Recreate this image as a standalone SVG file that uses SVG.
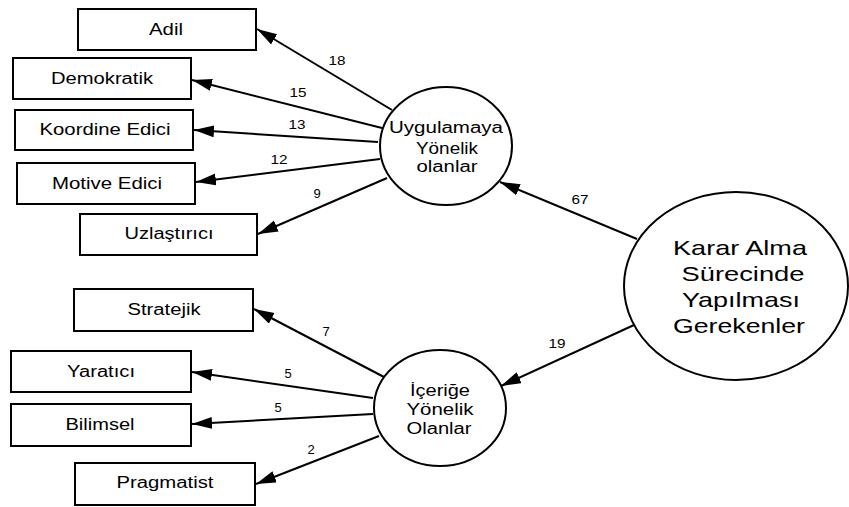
<svg xmlns="http://www.w3.org/2000/svg" width="849" height="507" viewBox="0 0 849 507">
<style>
.box{fill:#fff;stroke:#000;stroke-width:2}
.circ{fill:#fff;stroke:#000;stroke-width:2}
.lbl{font-family:"Liberation Sans",Arial,sans-serif;font-size:16px;fill:#000;text-anchor:middle}
.big{font-family:"Liberation Sans",Arial,sans-serif;font-size:21px;fill:#000;text-anchor:middle}
.num{font-family:"Liberation Sans",Arial,sans-serif;font-size:13px;fill:#000;text-anchor:middle}
.edge{stroke:#000;stroke-width:2;fill:none;marker-end:url(#arr)}
</style>
<defs>
<marker id="arr" markerUnits="userSpaceOnUse" markerWidth="22" markerHeight="14" refX="20" refY="6" orient="auto">
<path d="M0,0 L20,6 L0,12 z" fill="#000"/>
</marker>
</defs>
<g id="edges">
<line class="edge" x1="637" y1="239" x2="500" y2="182"/>
<line class="edge" x1="634" y1="325" x2="501" y2="386"/>
<line class="edge" x1="392" y1="110" x2="257" y2="29"/>
<line class="edge" x1="382" y1="128" x2="192" y2="80"/>
<line class="edge" x1="378" y1="142" x2="194" y2="130"/>
<line class="edge" x1="380" y1="159" x2="196" y2="182"/>
<line class="edge" x1="387" y1="178" x2="258" y2="234"/>
<line class="edge" x1="384" y1="377" x2="254" y2="309"/>
<line class="edge" x1="373" y1="398" x2="192" y2="372"/>
<line class="edge" x1="373" y1="414" x2="192" y2="424"/>
<line class="edge" x1="379" y1="436" x2="256" y2="484"/>
<text class="num" x="580" y="204" textLength="17" lengthAdjust="spacingAndGlyphs">67</text>
<text class="num" x="557" y="348" textLength="17" lengthAdjust="spacingAndGlyphs">19</text>
<text class="num" x="337" y="65" textLength="17" lengthAdjust="spacingAndGlyphs">18</text>
<text class="num" x="298" y="97" textLength="17" lengthAdjust="spacingAndGlyphs">15</text>
<text class="num" x="297" y="129" textLength="17" lengthAdjust="spacingAndGlyphs">13</text>
<text class="num" x="279" y="164" textLength="17" lengthAdjust="spacingAndGlyphs">12</text>
<text class="num" x="317" y="198">9</text>
<text class="num" x="326" y="336">7</text>
<text class="num" x="288" y="378">5</text>
<text class="num" x="278" y="412">5</text>
<text class="num" x="311" y="454">2</text>
</g>
<g id="karar">
<ellipse class="circ" cx="736" cy="286" rx="112" ry="94"/>
<text class="big" x="740" y="255" textLength="134" lengthAdjust="spacingAndGlyphs">Karar Alma</text>
<text class="big" x="743" y="281" textLength="123" lengthAdjust="spacingAndGlyphs">Sürecinde</text>
<text class="big" x="741" y="307" textLength="118" lengthAdjust="spacingAndGlyphs">Yapılması</text>
<text class="big" x="739" y="333" textLength="132" lengthAdjust="spacingAndGlyphs">Gerekenler</text>
</g>
<g id="uygulamaya">
<ellipse class="circ" cx="446" cy="146" rx="66" ry="59"/>
<text class="lbl" x="446" y="133" textLength="114" lengthAdjust="spacingAndGlyphs">Uygulamaya</text>
<text class="lbl" x="447" y="154" textLength="62" lengthAdjust="spacingAndGlyphs">Yönelik</text>
<text class="lbl" x="447" y="172" textLength="61" lengthAdjust="spacingAndGlyphs">olanlar</text>
</g>
<g id="icerige">
<ellipse class="circ" cx="440" cy="408" rx="66" ry="58"/>
<text class="lbl" x="440" y="396" textLength="60" lengthAdjust="spacingAndGlyphs">İçeriğe</text>
<text class="lbl" x="440" y="415" textLength="67" lengthAdjust="spacingAndGlyphs">Yönelik</text>
<text class="lbl" x="439" y="434" textLength="65" lengthAdjust="spacingAndGlyphs">Olanlar</text>
</g>
<g id="adil"><rect class="box" x="78" y="9" width="178" height="41"/><text class="lbl" x="166" y="35" textLength="34" lengthAdjust="spacingAndGlyphs">Adil</text></g>
<g id="demokratik"><rect class="box" x="13" y="58" width="178" height="41"/><text class="lbl" x="102" y="84" textLength="102" lengthAdjust="spacingAndGlyphs">Demokratik</text></g>
<g id="koordine"><rect class="box" x="15" y="110" width="178" height="40"/><text class="lbl" x="105" y="135" textLength="131" lengthAdjust="spacingAndGlyphs">Koordine Edici</text></g>
<g id="motive"><rect class="box" x="17" y="163" width="178" height="41"/><text class="lbl" x="107" y="189" textLength="110" lengthAdjust="spacingAndGlyphs">Motive Edici</text></g>
<g id="uzlastirici"><rect class="box" x="80" y="214" width="177" height="41"/><text class="lbl" x="169" y="239" textLength="89" lengthAdjust="spacingAndGlyphs">Uzlaştırıcı</text></g>
<g id="stratejik"><rect class="box" x="74" y="289" width="179" height="42"/><text class="lbl" x="164" y="315" textLength="73" lengthAdjust="spacingAndGlyphs">Stratejik</text></g>
<g id="yaratici"><rect class="box" x="11" y="351" width="180" height="41"/><text class="lbl" x="101" y="377" textLength="68" lengthAdjust="spacingAndGlyphs">Yaratıcı</text></g>
<g id="bilimsel"><rect class="box" x="11" y="404" width="180" height="42"/><text class="lbl" x="100" y="430" textLength="69" lengthAdjust="spacingAndGlyphs">Bilimsel</text></g>
<g id="pragmatist"><rect class="box" x="75" y="463" width="180" height="42"/><text class="lbl" x="165" y="488" textLength="97" lengthAdjust="spacingAndGlyphs">Pragmatist</text></g>
</svg>
